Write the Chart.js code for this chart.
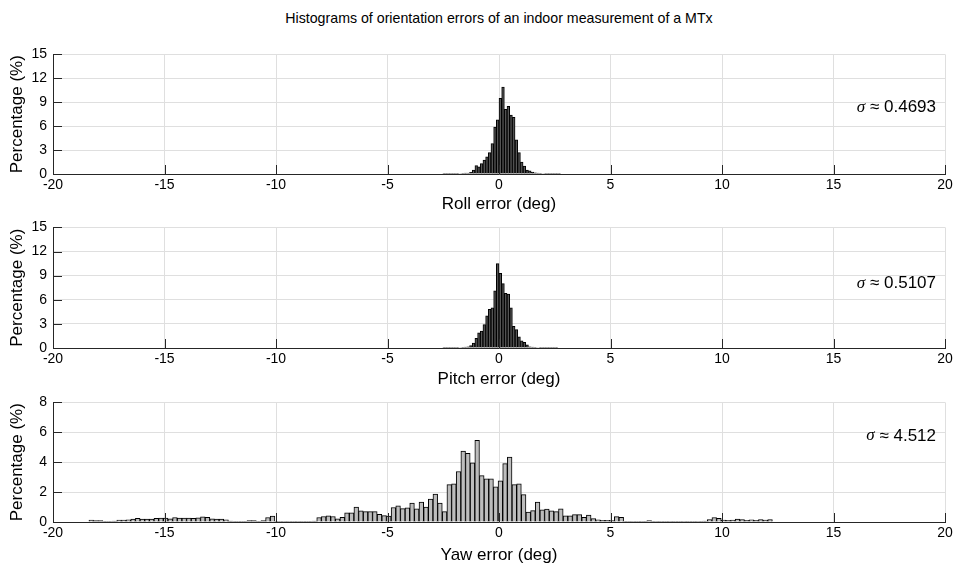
<!DOCTYPE html>
<html>
<head>
<meta charset="utf-8">
<script src="https://cdn.jsdelivr.net/npm/chart.js@4"></script>
<style>
  body { margin: 0; background: #fff; }
  #wrap { position: relative; width: 957px; height: 572px; font-family: "Liberation Sans", Arial, sans-serif; }
  #title { position: absolute; top: 10px; left: 53px; width: 892px; text-align: center; font-size: 14.2px; color: #000; }
  canvas { position: absolute; left: 0; }
</style>
</head>
<body>
<div id="wrap">
  <div id="title">Histograms of orientation errors of an indoor measurement of a MTx</div>
  <canvas id="roll" width="957" height="175" style="top:40px"></canvas>
  <canvas id="pitch" width="957" height="177" style="top:213px"></canvas>
  <canvas id="yaw" width="957" height="178" style="top:388px"></canvas>
</div>
<script>
// bins: roll and pitch use 0.12 deg bins, yaw 0.2085 deg bins (147 bins)
const rollStart = -2.52
const rollWidth = 0.12
const rollPct = [
  0.02, 0.02, 0.03, 0.03, 0.04, 0.05, 0.06, 0.08, 0.1, 0.12,
  0.2, 0.5, 1.05, 0.9, 1.3, 1.75, 2.15, 2.7, 3.8, 5.9,
  6.8, 9.5, 10.9, 8.1, 8.5, 7.4, 7.1, 4.3, 2.7, 1.5,
  1.0, 0.5, 0.4, 0.24, 0.15, 0.1, 0.08, 0.06, 0.05, 0.04,
  0.03, 0.03, 0.02, 0.02
]

const pitchStart = -2.52
const pitchWidth = 0.12
const pitchPct = [
  0.02, 0.02, 0.03, 0.03, 0.04, 0.05, 0.06, 0.08, 0.1, 0.15,
  0.3, 0.6, 1.2, 1.9, 2.1, 2.9, 4.0, 4.8, 5.0, 7.1,
  10.5, 9.3, 8.0, 6.8, 6.7, 5.0, 2.7, 2.3, 1.4, 0.9,
  0.7, 0.4, 0.16, 0.1, 0.08, 0.06, 0.05, 0.04, 0.03, 0.03,
  0.02, 0.02, 0.02
]

const yawStart = -18.39
const yawWidth = 0.2085
const yawPct = [
  0.13, 0.09, 0.09, 0.04, 0.04, 0.06, 0.13, 0.13, 0.15, 0.19,
  0.24, 0.19, 0.19, 0.19, 0.24, 0.26, 0.26, 0.21, 0.3, 0.26,
  0.26, 0.26, 0.24, 0.28, 0.34, 0.32, 0.21, 0.19, 0.19, 0.15,
  0.06, 0.04, 0.02, 0.04, 0.09, 0.09, 0.04, 0.09, 0.3, 0.39,
  0.04, 0.03, 0.03, 0.04, 0.03, 0.04, 0.05, 0.04, 0.06, 0.3,
  0.37, 0.41, 0.37, 0.22, 0.32, 0.62, 0.62, 1.0, 0.75, 0.69,
  0.69, 0.69, 0.52, 0.43, 0.39, 0.97, 1.08, 0.9, 0.95, 1.27,
  0.88, 1.33, 0.99, 1.53, 1.87, 1.27, 0.69, 2.5, 2.56, 3.38,
  4.75, 4.6, 3.96, 5.46, 3.1, 2.88, 2.88, 2.36, 2.75, 3.9,
  4.35, 2.5, 2.56, 1.83, 0.66, 0.76, 1.34, 0.81, 0.87, 0.74,
  0.69, 0.88, 0.42, 0.42, 0.49, 0.49, 0.32, 0.46, 0.23, 0.15,
  0.11, 0.11, 0.1, 0.36, 0.32, 0.05, 0.04, 0.04, 0.03, 0.04,
  0.1, 0.04, 0.03, 0.04, 0.03, 0.03, 0.04, 0.03, 0.03, 0.04,
  0.03, 0.04, 0.06, 0.17, 0.3, 0.24, 0.13, 0.11, 0.13, 0.19,
  0.17, 0.11, 0.15, 0.11, 0.17, 0.13, 0.17
]

const xTicks = [-20, -15, -10, -5, 0, 5, 10, 15, 20]
const rollPitchYTicks = [0, 3, 6, 9, 12, 15]
const yawYTicks = [0, 2, 4, 6, 8]

const FONT = "'Liberation Sans', Arial, sans-serif"
const AXIS = "#262626"
const GRID = "#dfdfdf"

function binPoints(start, width, values) {
  return values.map((v, i) => ({ x: start + width * (i + 0.5), y: v }))
}

// MATLAB style ticks pointing into the axes + sigma label
const axesExtras = {
  id: "axesExtras",
  afterDatasetsDraw(chart, args, opts) {
    const { ctx, chartArea: a, scales } = chart
    ctx.save()
    ctx.strokeStyle = AXIS
    ctx.lineWidth = 1
    ctx.beginPath()
    scales.x.ticks.forEach(t => {
      const px = Math.round(scales.x.getPixelForValue(t.value)) + 0.5
      ctx.moveTo(px, a.bottom)
      ctx.lineTo(px, a.bottom - 9)
    })
    scales.y.ticks.forEach(t => {
      const py = Math.round(scales.y.getPixelForValue(t.value)) + 0.5
      ctx.moveTo(a.left, py)
      ctx.lineTo(a.left + 9, py)
    })
    ctx.stroke()

    const rest = " \u2248 " + opts.sigma
    ctx.fillStyle = "#000"
    ctx.textBaseline = "middle"
    ctx.font = "17px " + FONT
    const restW = ctx.measureText(rest).width
    ctx.font = "italic 17px 'Liberation Serif', serif"
    const sW = ctx.measureText("\u03c3").width
    const right = a.right - 9
    const y = a.top + opts.dy
    ctx.fillText("\u03c3", right - restW - sW, y)
    ctx.font = "17px " + FONT
    ctx.fillText(rest, right - restW, y)
    ctx.restore()
  }
}

function makeHist(id, points, fill, yMax, xTitle, sigma, dy, padTop, axisH) {
  return new Chart(document.getElementById(id), {
    type: "bar",
    data: {
      datasets: [{
        data: points,
        backgroundColor: fill,
        borderColor: "#000",
        borderWidth: 1,
        borderSkipped: "start",
        barPercentage: 1,
        categoryPercentage: 1
      }]
    },
    options: {
      responsive: false,
      animation: false,
      events: [],
      layout: { padding: { top: padTop, right: 12, left: 0, bottom: 0 } },
      plugins: {
        legend: { display: false },
        tooltip: { enabled: false },
        axesExtras: { sigma: sigma, dy: dy }
      },
      scales: {
        x: {
          type: "linear",
          min: -20,
          max: 20,
          offset: false,
          afterBuildTicks: s => { s.ticks = xTicks.map(v => ({ value: v })) },
          afterFit: s => { s.height = axisH },
          ticks: { color: "#000", font: { family: FONT, size: 14 }, padding: 3 },
          grid: { color: GRID, drawTicks: false, offset: false },
          border: { color: AXIS },
          title: {
            display: true,
            text: xTitle,
            color: "#000",
            font: { family: FONT, size: 17 },
            padding: { top: 0, bottom: 0 }
          }
        },
        y: {
          min: 0,
          max: yMax,
          afterBuildTicks: s => {
            s.ticks = (yMax === 8 ? yawYTicks : rollPitchYTicks).map(v => ({ value: v }))
          },
          afterFit: s => { s.width = 53 },
          ticks: { color: "#000", font: { family: FONT, size: 14 }, padding: 6 },
          grid: { color: GRID, drawTicks: false },
          border: { color: AXIS },
          title: {
            display: true,
            text: "Percentage (%)",
            color: "#000",
            font: { family: FONT, size: 17 },
            padding: { top: 7, bottom: 0 }
          }
        }
      }
    },
    plugins: [axesExtras]
  })
}

makeHist("roll", binPoints(rollStart, rollWidth, rollPct), "#555555", 15,
  "Roll error (deg)", "0.4693", 53, 10, 41)
makeHist("pitch", binPoints(pitchStart, pitchWidth, pitchPct), "#555555", 15,
  "Pitch error (deg)", "0.5107", 56, 10, 42)
makeHist("yaw", binPoints(yawStart, yawWidth, yawPct), "#bdbdbd", 8,
  "Yaw error (deg)", "4.512", 33.5, 10.5, 44)
</script>
</body>
</html>
